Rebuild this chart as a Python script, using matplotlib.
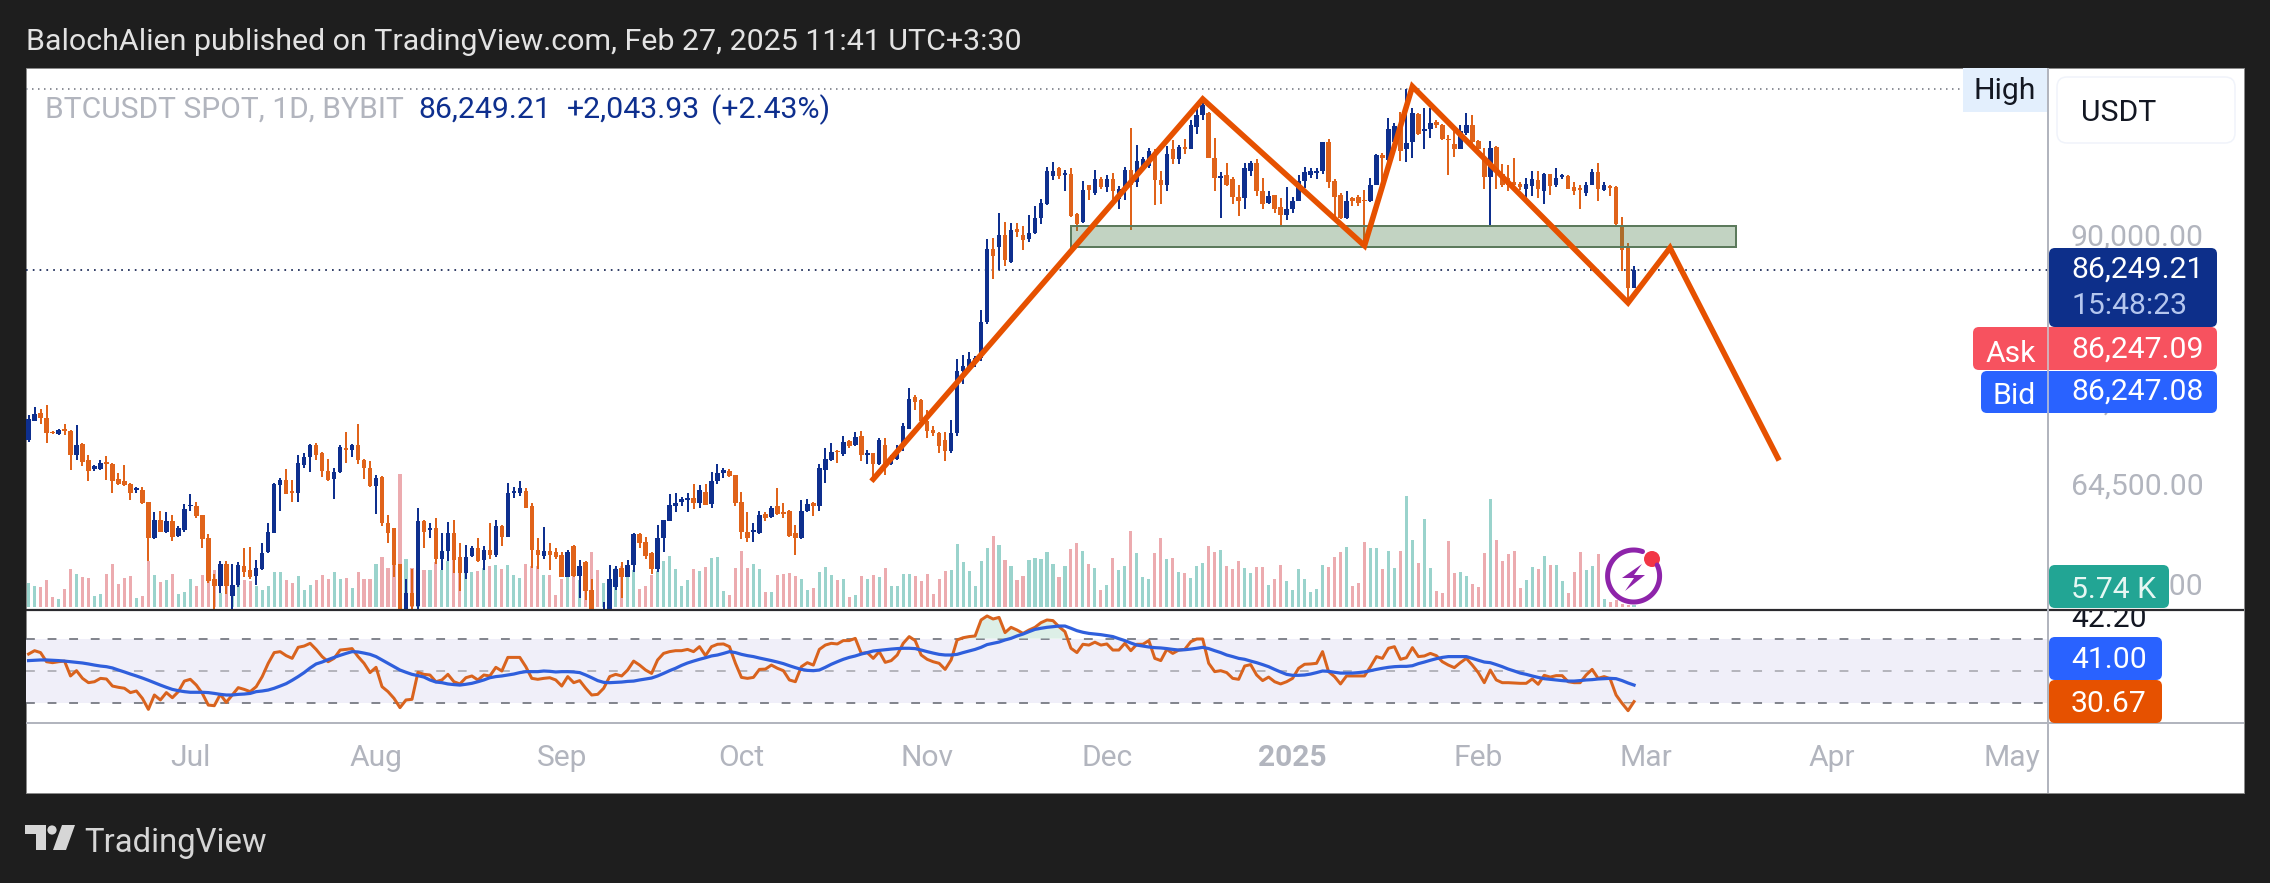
import numpy as np
import pandas as pd
import matplotlib
matplotlib.use("Agg")
import matplotlib.pyplot as plt
import matplotlib.dates as mdates
from matplotlib.patches import Rectangle, FancyBboxPatch, Polygon, Circle
from matplotlib.ticker import NullLocator, NullFormatter

plt.rcParams['font.family'] = ['Roboto', 'DejaVu Sans']

# ---- data (prices in thousand USDT, volume in thousand BTC) ----
first_day = '2024-06-04'
opens = [
69.0,70.7,71.5,71.0,69.7,69.5,70.0,69.8,67.6,68.6,
67.2,66.4,66.4,67.0,66.8,65.5,65.3,65.1,64.6,64.6,
63.6,60.6,62.1,61.1,62.0,60.8,61.3,63.2,63.2,62.5,
60.6,57.4,56.9,58.6,56.2,57.0,58.4,58.1,57.7,58.2,
59.5,61.0,65.0,65.4,64.5,64.3,66.7,67.4,68.5,67.8,
66.2,65.5,66.1,68.2,68.1,68.5,67.2,66.5,64.9,65.7,
61.8,61.4,58.6,53.5,56.4,55.4,62.0,61.3,61.4,59.0,
59.6,61.0,59.1,57.9,59.2,59.8,58.9,59.7,59.3,61.6,
60.7,64.3,64.3,64.5,63.2,59.7,59.2,59.6,59.5,59.3,
57.6,60.0,57.7,58.7,56.6,54.9,53.9,54.8,56.8,58.3,
57.6,58.5,60.9,60.3,59.4,58.2,60.6,62.0,63.2,63.6,
63.7,63.9,63.5,64.4,63.4,65.3,66.0,66.2,65.9,63.6,
61.1,61.1,61.0,62.6,62.3,63.2,62.7,62.8,61.0,60.6,
62.8,63.5,63.2,66.3,67.2,68.0,67.7,68.9,68.5,69.3,
67.6,67.8,66.8,68.5,66.8,67.3,68.4,70.0,73.0,72.7,
70.7,69.9,69.6,69.0,68.0,69.6,75.5,75.9,76.5,76.8,
80.5,88.7,88.9,90.3,87.2,91.0,90.3,89.8,90.5,92.3,
94.1,97.6,98.6,97.7,97.8,92.9,91.9,96.4,95.5,97.2,
96.2,97.2,94.7,95.7,98.4,96.8,98.9,98.9,100.4,97.1,
96.4,101.1,99.8,101.4,101.1,104.1,105.8,106.1,99.9,97.4,
97.7,97.2,95.0,94.8,98.3,99.3,95.7,94.2,95.2,93.7,
92.7,93.5,94.5,96.9,97.7,98.0,98.2,102.0,97.0,95.2,
92.4,94.8,94.9,94.6,94.4,96.5,100.3,99.7,102.1,104.1,
101.1,102.0,105.9,103.6,103.8,104.8,104.4,102.4,101.8,101.1,
103.3,104.4,102.2,99.9,97.5,101.4,97.8,97.4,96.8,96.6,
96.0,96.3,97.1,95.7,97.8,96.4,97.5,97.6,96.2,96.1,
95.5,96.5,98.1,95.8,96.3,96.2,91.5,88.8,84.205]
highs = [
71.3,72.0,71.8,72.2,69.8,70.0,70.4,69.9,70.3,68.7,
67.6,66.7,67.2,67.5,66.9,66.0,66.7,65.2,64.8,64.8,
63.6,62.7,62.8,62.7,62.5,61.6,63.4,64.2,63.6,62.5,
60.9,57.8,58.8,58.8,58.6,58.7,59.8,59.9,58.9,60.2,
61.8,65.2,65.6,66.4,65.4,67.6,67.8,68.6,68.7,67.9,
67.3,66.5,68.5,69.7,68.6,70.4,67.3,67.1,65.9,65.8,
62.5,61.4,58.6,57.4,58.2,63.1,62.1,61.8,62.2,61.0,
61.9,62.1,60.2,60.1,60.0,60.6,60.0,61.8,62.1,61.7,
65.2,64.8,65.3,64.7,63.5,60.6,61.5,60.2,59.8,59.5,
59.7,60.1,58.9,58.8,57.4,55.0,55.7,58.5,58.4,58.7,
58.9,61.0,61.0,60.7,59.5,61.7,62.1,64.2,64.3,64.0,
64.3,65.1,65.0,65.1,66.1,66.8,66.5,66.4,65.9,64.4,
62.7,61.8,62.8,62.7,63.2,64.7,63.5,62.9,61.7,63.7,
63.8,63.6,66.8,68.2,68.7,68.1,69.3,69.0,69.7,69.8,
68.1,67.8,69.1,69.1,67.6,68.5,70.5,73.8,73.2,72.8,
71.7,70.2,69.7,69.7,70.8,76.7,77.1,77.4,77.0,81.8,
89.8,90.0,93.0,91.9,91.7,91.7,91.4,92.7,93.8,94.7,
98.7,99.4,98.8,98.4,98.6,93.0,97.0,96.5,98.4,97.5,
97.7,98.0,96.3,98.8,103.9,101.7,100.1,101.2,101.1,98.2,
101.5,102.3,101.7,102.5,105.1,107.4,108.1,106.2,102.6,98.1,
99.3,97.5,96.5,99.3,99.5,99.8,97.4,95.7,95.2,94.8,
96.2,95.0,97.7,98.8,98.6,98.6,102.1,102.4,97.2,95.4,
95.7,95.0,95.2,95.8,97.3,100.4,100.6,105.4,104.6,106.2,
109.5,106.8,106.0,106.7,106.7,105.1,104.5,103.0,103.7,104.4,
106.1,105.8,102.3,101.3,102.2,101.5,99.1,99.0,100.0,96.8,
97.4,98.2,98.2,98.0,97.9,98.6,97.8,97.7,96.8,96.5,
96.8,98.5,99.3,96.8,96.5,96.3,92.5,89.4,86.7]
lows = [
68.8,70.7,70.4,68.7,69.5,69.4,69.4,66.3,67.2,66.6,
65.3,66.2,66.3,65.4,64.3,65.0,64.9,63.7,64.3,63.4,
58.8,60.5,61.1,61.0,60.4,60.7,61.1,62.8,62.2,59.8,
57.1,54.5,56.4,56.3,54.5,56.8,57.6,57.4,57.0,58.1,
59.4,61.0,62.8,64.2,63.6,63.6,66.5,66.1,67.2,65.7,
65.3,63.8,66.0,66.9,67.4,66.8,65.5,64.8,62.6,61.6,
60.2,57.6,49.5,52.0,54.5,54.5,59.8,60.6,58.6,58.1,
58.8,57.9,56.5,57.4,59.1,58.7,58.1,59.0,59.1,60.0,
60.7,63.9,64.1,63.1,58.3,58.2,59.0,58.1,59.0,57.6,
57.6,57.6,56.0,55.9,54.5,52.5,52.6,54.6,56.6,56.0,
57.6,58.0,59.8,59.0,57.8,58.0,59.5,62.0,62.7,63.2,
62.7,63.0,63.1,63.3,63.1,65.1,65.6,65.7,63.2,60.5,
60.3,60.3,60.9,62.0,62.2,62.5,62.2,60.7,59.3,60.5,
62.7,62.4,62.8,65.2,67.1,66.9,67.5,68.2,68.4,67.1,
66.8,65.5,66.7,65.9,66.7,67.2,68.0,70.0,71.7,70.5,
69.1,69.3,67.8,67.1,67.8,69.3,74.2,75.4,75.9,76.5,
80.3,85.2,86.3,86.7,87.1,90.1,88.5,89.5,90.4,91.6,
94.0,97.1,97.2,95.7,92.5,90.8,91.8,94.6,95.2,96.0,
95.6,94.7,93.5,94.6,90.9,96.2,98.6,98.6,94.0,94.1,
95.7,99.2,99.1,100.4,101.1,103.1,105.1,99.9,95.7,92.4,
96.3,94.1,92.6,93.5,97.6,95.1,93.4,94.1,93.0,91.5,
92.1,93.0,94.4,96.1,97.4,97.2,97.8,96.1,92.6,92.2,
92.2,93.8,93.8,89.4,94.3,96.4,96.5,99.6,101.7,99.5,
99.4,100.0,103.0,101.1,102.6,103.9,102.3,97.7,100.1,101.1,
103.0,101.7,100.4,96.0,91.3,96.0,96.2,95.7,95.7,95.8,
94.6,95.1,94.8,94.1,95.2,96.2,97.2,95.9,95.2,93.5,
95.1,96.4,94.5,95.7,95.1,91.5,86.1,82.8,84.2]
closes = [
70.9,71.4,71.0,69.6,69.6,69.9,69.8,67.6,68.5,67.0,
66.2,66.6,66.9,66.8,65.3,65.1,65.0,64.3,64.7,63.5,
60.6,62.1,61.1,62.0,60.7,61.4,63.0,63.3,62.4,60.5,
57.3,56.9,58.6,56.9,57.0,58.5,58.0,57.6,58.3,59.4,
61.1,65.1,65.4,64.2,64.3,66.9,67.4,68.5,67.6,66.2,
65.4,66.1,68.3,68.1,68.5,67.2,66.5,64.9,65.6,61.8,
61.0,58.5,54.8,56.4,55.4,62.0,61.1,61.4,59.0,59.6,
61.0,58.9,57.9,59.1,59.8,58.8,59.7,59.3,61.6,60.7,
64.3,64.5,64.7,63.1,59.7,59.3,59.6,59.3,59.1,57.6,
59.5,57.7,58.4,56.5,55.0,53.9,54.8,57.4,58.2,57.6,
58.5,60.9,60.2,59.2,58.2,60.6,62.1,63.3,63.5,63.8,
63.9,63.5,64.6,63.3,65.3,66.0,66.3,65.8,63.5,61.1,
60.6,61.3,62.5,62.2,63.1,62.6,62.6,60.8,60.6,62.8,
63.4,63.2,66.5,67.3,67.9,67.9,68.8,68.4,69.2,67.6,
67.8,66.8,69.0,66.7,67.3,68.0,70.2,72.8,72.5,70.7,
69.8,69.6,68.4,68.0,69.6,75.5,76.0,76.7,76.8,80.5,
88.7,87.8,90.3,87.4,90.9,90.7,89.7,90.5,92.3,94.2,
98.2,98.3,97.6,98.0,92.6,91.6,95.8,95.8,97.2,96.2,
97.2,95.7,95.9,98.4,96.5,99.5,99.8,100.9,97.1,96.4,
100.4,99.8,101.4,101.1,104.4,105.8,107.2,99.9,97.4,97.6,
96.5,95.0,94.4,98.6,99.3,95.7,94.1,95.1,93.5,92.7,
93.5,94.4,96.9,98.1,98.2,98.2,102.0,96.8,95.0,92.3,
94.5,94.4,94.2,94.5,96.5,100.3,99.9,103.8,104.3,100.8,
101.9,106.0,103.2,103.8,104.6,104.4,102.4,102.3,101.1,103.5,
104.4,102.1,101.1,97.5,101.2,98.2,96.5,96.5,96.4,96.2,
96.6,97.2,95.9,97.9,96.3,97.4,97.7,96.0,95.7,95.8,
96.4,98.1,95.9,96.4,96.1,91.6,88.6,84.2,86.249]
volumes = [
72,64,60,82,30,24,54,114,100,90,
87,34,40,100,130,70,87,94,27,34,
137,97,75,82,99,40,46,84,64,96,
102,110,42,62,42,92,82,79,64,52,
64,104,104,80,72,94,50,67,82,97,
84,104,84,87,57,104,85,85,129,150,
117,152,400,144,117,132,112,112,134,110,
137,144,120,112,105,107,117,124,127,114,
127,97,87,130,122,122,95,97,37,84,
92,102,82,107,164,112,72,84,117,122,
92,112,54,64,97,107,139,154,114,64,
82,114,107,119,147,150,49,37,117,169,
117,130,115,46,46,97,99,103,92,85,
50,58,105,120,97,82,85,30,37,94,
85,97,89,117,64,64,100,100,94,79,
99,40,85,107,112,190,134,109,64,139,
177,214,187,142,124,80,94,142,147,145,
165,130,89,122,175,192,169,130,
116,51,66,146,111,123,229,163,89,84,
163,208,144,146,104,101,87,123,132,184,
166,171,123,114,138,116,103,119,119,66,
85,127,78,51,114,85,46,54,126,120,
149,165,179,63,72,195,177,177,114,169,
117,169,334,201,132,264,117,48,42,198,
102,105,93,69,60,162,324,201,138,159,
168,57,81,120,114,153,126,126,78,42,
105,165,111,123,159,24,15,21,9,6,
5.74]
rsi = [
60.4,62.5,61.3,55.6,55.0,55.6,56.0,46.7,50.0,45.2,
42.5,43.1,45.2,44.8,40.4,39.6,39.0,36.3,37.3,32.7,
25.8,34.8,31.7,36.3,33.1,36.9,43.5,44.6,41.0,35.8,
28.5,28.1,35.2,30.2,34.8,39.4,38.3,36.9,40.0,46.3,
54.6,61.3,61.9,59.4,57.7,64.6,65.4,67.1,63.3,58.8,
55.6,57.7,62.9,63.3,63.8,58.8,54.6,48.8,52.1,40.0,
36.9,32.7,26.9,31.7,32.1,49.0,47.7,47.3,43.1,44.2,
47.7,43.1,41.7,45.6,46.7,44.2,47.3,46.7,52.1,49.8,
58.3,58.3,58.3,52.5,45.2,44.6,45.2,45.6,44.2,40.4,
46.3,42.5,43.8,39.0,34.8,35.2,39.0,46.3,47.7,46.7,
50.4,56.0,53.5,50.4,48.3,56.7,60.8,61.9,62.5,62.5,
63.3,61.9,65.0,59.4,65.0,66.5,66.7,65.0,54.6,45.8,
45.2,45.8,50.8,51.0,53.5,51.5,50.0,44.2,43.1,52.5,
55.0,53.5,63.3,66.0,67.1,66.7,68.8,68.8,70.2,60.8,
61.3,57.7,61.9,55.2,56.3,59.8,67.1,71.3,68.8,59.8,
57.1,55.6,54.6,50.8,56.7,69.2,70.6,71.3,71.7,81.7,
84.2,82.3,83.3,73.8,77.1,75.4,73.3,75.4,77.1,80.0,
81.7,81.3,77.5,74.4,64.0,61.3,66.5,66.0,67.8,66.0,
66.7,62.9,62.9,67.1,62.5,66.5,66.5,68.8,57.7,56.3,
63.3,60.8,62.9,63.3,68.1,69.8,69.8,54.6,49.4,50.0,
48.8,45.2,44.6,52.9,53.8,47.3,43.8,46.0,43.1,41.7,
43.1,45.2,51.5,54.0,54.2,54.6,61.9,49.4,46.3,41.7,
46.7,46.7,46.7,46.7,52.5,58.8,57.7,64.0,65.0,57.1,
58.1,64.4,58.8,59.2,60.8,59.4,55.6,53.5,51.9,55.0,
57.7,53.5,48.8,42.5,50.4,44.2,42.5,42.5,42.3,42.1,
42.1,44.8,41.5,47.1,46.0,46.9,46.9,43.1,42.5,42.5,
47.3,50.8,45.2,46.3,45.0,34.8,29.6,25.0,30.67]
rsi_ma = [
56.3,56.5,56.7,56.7,56.5,56.3,56.0,55.6,55.2,54.8,
54.2,53.5,52.9,52.5,51.7,50.4,49.2,47.9,46.7,45.4,
44.0,42.5,41.0,39.6,38.3,37.5,36.9,36.5,36.5,36.5,
36.3,35.8,35.2,34.8,34.8,35.2,35.4,35.8,36.9,37.3,
37.9,39.0,40.4,41.9,44.0,46.3,48.8,51.7,54.2,55.4,
56.9,58.3,59.6,60.8,61.9,61.7,61.0,60.2,58.8,56.7,
54.6,52.5,50.4,49.0,47.7,46.9,46.0,44.2,42.9,42.5,
41.7,41.3,41.0,41.5,42.1,43.1,44.2,45.6,46.3,46.7,
47.3,47.9,48.8,49.4,49.4,49.4,49.8,49.6,49.2,49.4,
49.4,49.2,48.8,47.3,45.6,43.8,42.7,42.5,42.7,42.9,
43.3,43.5,44.2,44.8,45.4,46.7,48.3,50.0,51.5,53.3,
54.8,56.0,57.1,58.1,59.2,59.8,60.8,61.9,61.3,60.2,
59.4,58.8,57.9,57.1,56.3,55.4,54.4,53.1,51.9,50.8,
50.2,50.0,50.4,52.1,54.0,55.6,57.1,58.3,59.2,60.4,
61.3,62.3,62.7,63.1,63.5,63.8,64.0,64.0,63.8,62.9,
61.9,61.0,60.2,59.8,59.8,60.2,61.3,62.3,63.3,64.6,
66.3,67.1,67.9,69.2,70.2,71.7,72.9,74.4,75.8,76.5,
77.1,77.5,77.9,77.9,76.5,75.0,74.0,73.3,72.9,72.5,
71.9,71.3,70.0,68.8,67.3,66.0,65.4,64.8,64.4,64.2,
63.8,63.3,62.9,63.1,63.5,64.0,64.6,63.8,62.5,61.3,
59.8,58.8,57.7,57.1,56.0,55.0,53.8,52.5,50.8,49.2,
47.7,47.1,47.1,47.3,47.9,48.8,49.8,49.6,49.0,48.5,
48.5,48.5,48.8,49.2,50.0,50.8,51.5,52.1,52.5,52.7,
52.7,53.1,54.4,55.4,56.5,57.5,58.3,58.8,58.8,58.8,
58.8,57.7,56.5,55.4,55.0,53.8,52.5,51.0,49.8,48.5,
47.7,46.7,45.8,45.0,44.6,44.2,43.8,43.5,43.5,43.8,
44.2,44.4,44.8,45.0,45.2,45.0,43.8,42.3,41.0]

zigzag_dates = ['2024-10-23','2024-12-17','2025-01-13','2025-01-21','2025-02-26','2025-03-05','2025-03-23']
zigzag_prices = [65.5,108.0,89.05,109.8,82.6,88.8,67.35]
zone_dates = ['2024-11-25','2025-03-16']
zone_prices = [88.9,91.43]
last_price = 86.249
high_price = 109.45
month_ticks = ['2024-07-01','2024-08-01','2024-09-01','2024-10-01','2024-11-01','2024-12-01',
               '2025-01-01','2025-02-01','2025-03-01','2025-04-01','2025-05-01']
month_labels = ['Jul','Aug','Sep','Oct','Nov','Dec','2025','Feb','Mar','Apr','May']
price_ticks = [57.1,65.1,72.7,90.3]
price_tick_labels = ['57,000.00','64,500.00','73,000.00','90,000.00']
rsi_levels = [70,50,30]

n = len(closes)
assert all(len(s) == n for s in (opens, highs, lows, volumes, rsi, rsi_ma)), \
    [len(s) for s in (opens, highs, lows, closes, volumes, rsi, rsi_ma)]

# ---- layout ----
W, H = 2270, 883
BG = '#1e1e1e'
BLUE = '#0e2f8e'
ORANGE = '#e0631a'
GRAY = '#b2b5be'
fig = plt.figure(figsize=(W/100, H/100), dpi=100, facecolor=BG)
def rect(l, t, r, b):
    return [l/W, 1-b/H, (r-l)/W, (b-t)/H]
def px(v):
    return v*0.72

back = fig.add_axes([0, 0, 1, 1], zorder=0)
back.set_xlim(0, W); back.set_ylim(H, 0); back.axis('off')
back.add_patch(Rectangle((26, 68), 2218, 725, fc='white', ec='#8a8a8a', lw=px(1)))

dates = mdates.date2num(pd.date_range(first_day, periods=n))
o, h, l, c = map(np.array, (opens, highs, lows, closes))
up = c >= o
xlim = (dates[0]-0.43, dates[0]+337.1)

# volume
ax_v = fig.add_axes(rect(26, 68, 2048, 610), zorder=1, facecolor='none')
ax_v.set_xlim(xlim); ax_v.set_ylim(-9, 1617); ax_v.axis('off')
ax_v.bar(dates, volumes, width=0.52, color=['#9ad3cc' if u else '#ecabaf' for u in up], linewidth=0)

# candles
ax = fig.add_axes(rect(26, 68, 2048, 610), zorder=2, facecolor='none')
ax.set_yscale('log')
ax.set_xlim(xlim); ax.set_ylim(55.14, 112.5)
colors = np.where(up, BLUE, ORANGE)
ax.vlines(dates, l, h, colors=colors, lw=px(2.0), zorder=3)
ax.bar(dates, np.abs(c-o), bottom=np.minimum(o, c), width=0.75, color=colors, linewidth=0, zorder=3)
ax.axhline(high_price, xmin=0, xmax=(1963-26)/(2048-26), color='#6a6d78', lw=px(1.5), ls=(0, (1, 3)), zorder=2)
ax.axhline(last_price, color='#10204f', lw=px(1.7), ls=(0, (1, 3)), zorder=2)
zx = mdates.date2num(pd.to_datetime(zone_dates))
ax.add_patch(Rectangle((zx[0], zone_prices[0]), zx[1]-zx[0], zone_prices[1]-zone_prices[0],
                       fc=(0.30, 0.50, 0.30, 0.34), ec='#5c7a5c', lw=px(2), zorder=4))
ax.plot(mdates.date2num(pd.to_datetime(zigzag_dates)), zigzag_prices, color='#e65100', lw=px(5.6),
        solid_joinstyle='miter', zorder=5, clip_on=False)
ax.xaxis.set_visible(False)
ax.yaxis.tick_right()
ax.yaxis.set_minor_locator(NullLocator()); ax.yaxis.set_minor_formatter(NullFormatter())
ax.set_yticks(price_ticks); ax.set_yticklabels(price_tick_labels)
ax.tick_params(axis='y', length=0, pad=px(23), labelsize=21.7, labelcolor=GRAY)
for s in ax.spines.values():
    s.set_visible(False)

# RSI
ar = fig.add_axes(rect(26, 611, 2048, 723), zorder=2, facecolor='none')
ar.set_xlim(xlim); ar.set_ylim(17.3, 87.3)
ar.axhspan(30, 70, color='#f0eff9', lw=0, zorder=1)
for lev, col in zip(rsi_levels, ['#70737c', '#ababb3', '#70737c']):
    ar.axhline(lev, color=col, lw=px(1.7), ls=(0, (5.2, 7.5)), zorder=2)
r = np.array(rsi); m = np.array(rsi_ma)
ar.fill_between(dates, 70, r, where=r > 70, color='#cfe9dd', alpha=0.7, lw=0, zorder=2, interpolate=True)
ar.fill_between(dates, 30, r, where=r < 30, color='#fbe3cf', alpha=0.7, lw=0, zorder=2, interpolate=True)
ar.plot(dates, rsi, color='#d9631e', lw=px(3.0), zorder=3)
ar.plot(dates, rsi_ma, color='#2f5fdc', lw=px(3.2), zorder=4)
ar.yaxis.set_visible(False)
ar.set_xticks(mdates.date2num(pd.to_datetime(month_ticks)))
ar.set_xticklabels(month_labels)
ar.tick_params(axis='x', length=0, pad=px(21), labelsize=21.6, labelcolor=GRAY)
for t, s in zip(ar.get_xticklabels(), month_labels):
    if s == '2025':
        t.set_fontweight('bold')
for s in ar.spines.values():
    s.set_visible(False)

# ---- chrome overlay ----
ui = fig.add_axes([0, 0, 1, 1], zorder=20, facecolor='none')
ui.set_xlim(0, W); ui.set_ylim(H, 0); ui.axis('off')

def label(x, yc, s, color, size=21.7, ha='left', **kw):
    ui.text(x, yc + size/0.72*0.355, s, color=color, fontsize=size, ha=ha, va='baseline', **kw)
def box(x0, y0, x1, y1, fc, ec='none', r=6, z=3, lw=0):
    ui.add_patch(FancyBboxPatch((x0, y0), x1-x0, y1-y0, boxstyle=f'round,pad=0,rounding_size={r}',
                                fc=fc, ec=ec, lw=lw, zorder=z))

# separators
ui.plot([26, 2244], [610, 610], color='#2a2a2e', lw=px(2.2), solid_capstyle='butt', zorder=2)
ui.plot([26, 2244], [723, 723], color=GRAY, lw=px(2), solid_capstyle='butt', zorder=2)
ui.plot([2048, 2048], [68, 793], color=GRAY, lw=px(2), solid_capstyle='butt', zorder=2)

# header / footer
label(26, 39, 'BalochAlien published on TradingView.com, Feb 27, 2025 11:41 UTC+3:30', '#e3e3e3', size=21.9)
label(84, 840, 'TradingView', '#d6d6d6', size=23.7)
ui.add_patch(Polygon([(25, 825), (46, 825), (46, 850), (36, 850), (36, 834), (25, 834)], fc='#d6d6d6', lw=0))
ui.add_patch(Circle((52, 830), 4.6, fc='#d6d6d6', lw=0))
ui.add_patch(Polygon([(62, 825), (75, 825), (66, 850), (53, 850)], fc='#d6d6d6', lw=0))

# legend
label(45, 107, 'BTCUSDT SPOT, 1D, BYBIT', GRAY, size=21.6)
label(418, 107, '86,249.21', BLUE, size=21.8)
label(567, 107, '+2,043.93', BLUE, size=21.8)
label(711, 107, '(+2.43%)', BLUE, size=21.8)

# right side labels
box(2057, 77, 2235, 143, 'white', ec='#f0f3fa', r=10, lw=px(1.5))
label(2081, 110, 'USDT', '#131722')
ui.add_patch(Rectangle((1963, 68), 84, 44, fc='#e3effd', lw=0, zorder=3))
label(2005, 88, 'High', '#131722', ha='center', zorder=4)
box(2049, 248, 2217, 327, '#0d2f8a')
label(2071, 267, '86,249.21', 'white', zorder=5)
label(2071, 303, '15:48:23', '#b4c6ee', zorder=5)
box(1973, 327, 2217, 370, '#f7525f')
label(2011, 351, 'Ask', 'white', ha='center', zorder=5)
label(2071, 347, '86,247.09', 'white', zorder=5)
box(1981, 371, 2217, 413, '#2962ff')
label(2014, 393, 'Bid', 'white', ha='center', zorder=5)
label(2071, 389, '86,247.08', 'white', zorder=5)
ui.plot([2048, 2048], [327, 413], color='#c9cbd2', lw=px(1.5), zorder=4, solid_capstyle='butt')
label(2071, 616, '42.20', '#131722', zorder=1)
ui.add_patch(Rectangle((2049, 596), 120, 13, fc='white', lw=0, zorder=1.5))
box(2049, 565, 2169, 608, '#22a594')
label(2071, 587, '5.74 K', '#e6f7f3', zorder=5)
box(2049, 637, 2162, 680, '#2962ff')
label(2071, 657, '41.00', 'white', zorder=5)
box(2049, 680, 2162, 723, '#e65100')
label(2071, 701, '30.67', 'white', zorder=5)

# purple badge
t = np.radians(np.linspace(-25, 290, 120))
ui.plot(1633.6 + 26*np.cos(t), 576 + 26*np.sin(t), color='#8e24aa', lw=px(5), solid_capstyle='round')
ui.add_patch(Polygon([(1642, 564), (1622, 578), (1634, 578), (1625, 591), (1645, 575), (1634, 575)], fc='#8e24aa', lw=0))
ui.add_patch(Circle((1652, 559), 8, fc='#f23645', lw=0))

fig.savefig('out.png', dpi=100, facecolor=BG)
